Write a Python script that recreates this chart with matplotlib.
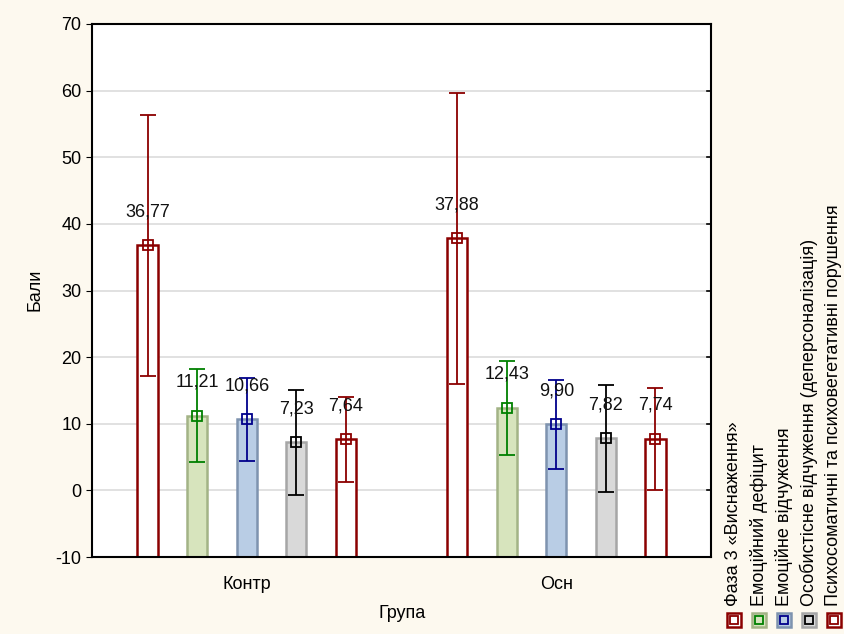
import matplotlib
matplotlib.use("Agg")
import matplotlib.pyplot as plt
from matplotlib.patches import Rectangle
from matplotlib.lines import Line2D
import numpy as np

plt.rcParams['font.family'] = ['Liberation Sans', 'DejaVu Sans']
plt.rcParams['axes.unicode_minus'] = False

groups = ["Контр", "Осн"]
series = ["Фаза 3 «Виснаження»", "Емоційний дефіцит", "Емоційне відчуження",
          "Особистісне відчуження (деперсоналізація)",
          "Психосоматичні та психовегетативні порушення"]
means = [[36.77, 37.88], [11.21, 12.43], [10.66, 9.90], [7.23, 7.82], [7.64, 7.74]]
upper = [[56.4, 59.7], [18.2, 19.4], [16.9, 16.6], [15.1, 15.8], [14.0, 15.4]]
lower = [[17.1, 16.0], [4.3, 5.3], [4.4, 3.2], [-0.7, -0.2], [1.3, 0.1]]
labels = [["36,77", "37,88"], ["11,21", "12,43"], ["10,66", "9,90"], ["7,23", "7,82"], ["7,64", "7,74"]]

fills = ["white", "#d7e4bd", "#b9cde5", "#d9d9d9", "white"]
edges = ["#8b0000", "#a3b386", "#7e93af", "#a6a6a6", "#8b0000"]
ecols = ["#8b0000", "#008000", "#00008b", "#000000", "#8b0000"]

W, H = 844, 634
FS = 13
fig = plt.figure(figsize=(W/100, H/100), dpi=100, facecolor="#fdf9ef")
ax = fig.add_axes([92/W, 1-557/H, (711-92)/W, (557-24)/H])
ax.set_facecolor("white")

ymin = -10
offs = np.array([-2, -1, 0, 1, 2]) * 0.16
bw = 0.066
x = np.arange(len(groups))
for i in range(len(series)):
    xs = x + offs[i]
    m = np.array(means[i])
    ax.bar(xs, m - ymin, bottom=ymin, width=bw, color=fills[i], edgecolor=edges[i],
           linewidth=1.8, zorder=2)
    yerr = [m - np.array(lower[i]), np.array(upper[i]) - m]
    ax.errorbar(xs, m, yerr=yerr, fmt='s', color=ecols[i], mfc='none', mec=ecols[i],
                ms=6.5, mew=1.3, elinewidth=1.3, capsize=6, capthick=1.3, zorder=3)
    for xi, mi, lab in zip(xs, m, labels[i]):
        ax.annotate(lab, (xi, mi), xytext=(0, 24), textcoords='offset points',
                    ha='center', va='center', fontsize=FS, color='#111111', zorder=4)

ax.set_xlim(-0.5, 1.5)
ax.set_ylim(-10, 70)
ax.set_yticks(np.arange(-10, 71, 10))
ax.set_xticks(x)
ax.set_xticklabels(groups, fontsize=FS)
ax.tick_params(axis='y', which='both', labelsize=FS, direction='out', length=4, left=True, right=False)
ax.tick_params(axis='x', direction='in', length=4, pad=14)
ax.grid(axis='y', color='#dcdcdc', linewidth=1.2, zorder=0)
ax.set_axisbelow(True)
for s in ax.spines.values():
    s.set_linewidth(1.5)
    s.set_color('black')

# right-side inward ticks
for yv in np.arange(-10, 71, 10):
    ax.plot([1.0, 0.993], [yv, yv], transform=ax.get_yaxis_transform(), color='black',
            linewidth=1.2, clip_on=False, zorder=5)

fig.text(35/W, 1-290/H, "Бали", rotation=90, ha='center', va='center', fontsize=FS)
fig.text(402/W, 1-614/H, "Група", ha='center', va='center', fontsize=FS)

# legend
lx = [734, 759, 784, 809, 834]
for i in range(len(series)):
    cx = lx[i]
    cy = 620
    s = 14
    fig.add_artist(Rectangle(((cx - s/2)/W, 1-(cy + s/2)/H), s/W, s/H,
                             transform=fig.transFigure, facecolor=fills[i],
                             edgecolor=edges[i], linewidth=1.8))
    fig.add_artist(Line2D([cx/W], [1-cy/H], transform=fig.transFigure, marker='s',
                          ms=6, mfc='none', mec=ecols[i], mew=1.3, linestyle='none'))
    fig.text(cx/W, 1-606/H, series[i], rotation=90, ha='center', va='bottom', fontsize=FS)

fig.savefig("out.png", dpi=100, facecolor=fig.get_facecolor())
